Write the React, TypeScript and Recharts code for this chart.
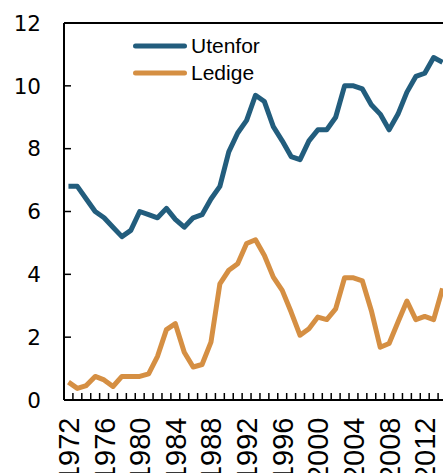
import React from 'react';
import { LineChart, Line, XAxis, YAxis, ReferenceLine, Legend } from 'recharts';

const years = [
  1972, 1973, 1974, 1975, 1976, 1977, 1978, 1979, 1980, 1981,
  1982, 1983, 1984, 1985, 1986, 1987, 1988, 1989, 1990, 1991,
  1992, 1993, 1994, 1995, 1996, 1997, 1998, 1999, 2000, 2001,
  2002, 2003, 2004, 2005, 2006, 2007, 2008, 2009, 2010, 2011,
  2012, 2013, 2014,
];

const utenfor = [
  6.8, 6.8, 6.4, 6.0, 5.8, 5.5, 5.2, 5.4, 6.0, 5.9,
  5.8, 6.1, 5.75, 5.5, 5.8, 5.9, 6.4, 6.8, 7.9, 8.5,
  8.9, 9.7, 9.5, 8.7, 8.25, 7.75, 7.65, 8.25, 8.6, 8.6,
  9.0, 10.0, 10.0, 9.9, 9.4, 9.1, 8.6, 9.1, 9.8, 10.3,
  10.4, 10.9, 10.75,
];

const ledige = [
  0.57, 0.37, 0.46, 0.75, 0.64, 0.43, 0.75, 0.75, 0.75, 0.83,
  1.39, 2.24, 2.43, 1.52, 1.05, 1.13, 1.84, 3.7, 4.13, 4.34,
  4.98, 5.1, 4.6, 3.91, 3.49, 2.8, 2.06, 2.27, 2.64, 2.56,
  2.9, 3.89, 3.89, 3.79, 2.85, 1.68, 1.8, 2.48, 3.15, 2.56,
  2.66, 2.56, 3.55,
];

const yTicks = [0, 2, 4, 6, 8, 10, 12];
const xLabelYears = [1972, 1976, 1980, 1984, 1988, 1992, 1996, 2000, 2004, 2008, 2012];
const xBoundaries = years.slice(0, -1).map((y) => y + 0.5);

const seriesNames = ['Utenfor', 'Ledige'];
const seriesColors = ['#225d7d', '#d58f43'];

const data = years.map((year, i) => ({ year, utenfor: utenfor[i], ledige: ledige[i] }));

const Y_FONT = '"DejaVu Sans", sans-serif';
const X_FONT = '"Liberation Sans", Arial, sans-serif';

const XTick = (props: any) => {
  const { x, y, payload } = props;
  const v = payload.value;
  if (Number.isInteger(v)) {
    const ay = y + 17.5;
    return (
      <text
        x={x}
        y={ay}
        transform={`rotate(-90 ${x} ${ay})`}
        textAnchor="end"
        dy="0.36em"
        fontFamily={X_FONT}
        fontSize={29}
        fill="#000"
      >
        {v}
      </text>
    );
  }
  return <line x1={x} y1={y} x2={x} y2={y - 7} stroke="#000" strokeWidth={1.5} />;
};

const YTick = (props: any) => {
  const { x, y, payload } = props;
  return (
    <g>
      <line x1={x} y1={y} x2={x + 7} y2={y} stroke="#000" strokeWidth={1.5} />
      <text
        x={x - 23}
        y={y}
        dy="0.36em"
        textAnchor="end"
        fontFamily={Y_FONT}
        fontSize={21.5}
        fill="#000"
      >
        {payload.value}
      </text>
    </g>
  );
};

const LegendContent = () => (
  <div style={{ fontFamily: '"Liberation Sans", Arial, sans-serif', fontSize: 21, color: '#000' }}>
    {seriesNames.map((name, i) => (
      <div key={name} style={{ display: 'flex', alignItems: 'center', height: 27.6 }}>
        <svg width={61} height={10} style={{ display: 'block' }}>
          <line x1={5.5} y1={5} x2={54.5} y2={5} stroke={seriesColors[i]} strokeWidth={5} strokeLinecap="round" />
        </svg>
        <span>{name}</span>
      </div>
    ))}
  </div>
);

export default function App() {
  return (
    <div style={{ position: 'fixed', left: 0, top: 0, width: 443, height: 473, overflow: 'hidden', background: '#fff' }}>
      <LineChart width={447} height={473} data={data} margin={{ top: 23, right: 0, bottom: 0, left: 0 }}>
        <XAxis
          dataKey="year"
          type="number"
          domain={[1971.5, 2014.5]}
          ticks={[...xBoundaries, ...xLabelYears].sort((a, b) => a - b)}
          interval={0}
          tickSize={0}
          tickMargin={0}
          tickLine={false}
          tick={<XTick />}
          axisLine={{ stroke: '#000', strokeWidth: 2 }}
          height={73}
          allowDataOverflow
        />
        <YAxis
          type="number"
          domain={[0, 12]}
          ticks={yTicks}
          interval={0}
          tickSize={0}
          tickMargin={0}
          tickLine={false}
          tick={<YTick />}
          axisLine={{ stroke: '#000', strokeWidth: 2 }}
          width={64}
        />
        <ReferenceLine y={12} stroke="#000" strokeWidth={2} />
        <Legend
          layout="horizontal"
          verticalAlign="middle"
          align="center"
          content={<LegendContent />}
          wrapperStyle={{ left: 130, top: 32, width: 200, height: 56, margin: 0 }}
        />
        <Line
          dataKey="utenfor"
          name={seriesNames[0]}
          stroke={seriesColors[0]}
          strokeWidth={5}
          strokeLinejoin="round"
          dot={false}
          isAnimationActive={false}
        />
        <Line
          dataKey="ledige"
          name={seriesNames[1]}
          stroke={seriesColors[1]}
          strokeWidth={5}
          strokeLinejoin="round"
          dot={false}
          isAnimationActive={false}
        />
      </LineChart>
    </div>
  );
}
